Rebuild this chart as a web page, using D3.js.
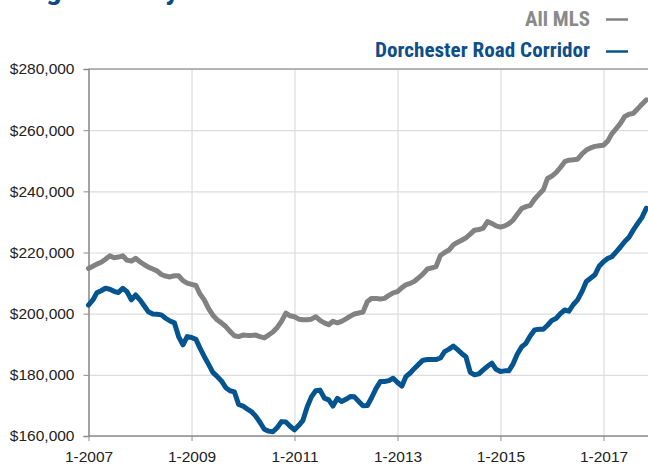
<!DOCTYPE html>
<html>
<head>
<meta charset="utf-8">
<script src="https://cdn.jsdelivr.net/npm/d3@7"></script>
<style>
  body { margin: 0; background: #fff; }
  .axis text { font-family: "Liberation Sans", Arial, Helvetica, sans-serif; font-size: 15.5px; fill: #222; }
  .axis path, .axis line { stroke: #8c8c8c; }
  .grid line { stroke: #dcdcdc; stroke-width: 1.2; }
  .grid path { display: none; }
  .cond { font-family: "Liberation Sans Narrow", "Arial Narrow", "Roboto Condensed", "DejaVu Sans Condensed", Arial, sans-serif; font-weight: bold; }
</style>
</head>
<body>
<div id="container"></div>
<script>
// monthly median price, Jan 2007 .. Nov 2017 (thousands)
const startMonth = new Date(2007, 0, 1);
const allMls = [
  214.8, 215.5, 216.2, 216.8, 217.8, 218.9, 218.3, 218.5, 218.9, 217.5, 217.2, 218.1,
  217.0, 216.0, 215.2, 214.6, 214.0, 212.8, 212.3, 212.0, 212.4, 212.4, 210.8, 210.0,
  209.6, 209.2, 206.5, 204.5, 201.7, 199.5, 198.0, 197.0, 195.8, 194.2, 192.8, 192.5,
  193.0, 192.9, 192.9, 193.0, 192.5, 192.1, 193.0, 194.0, 195.5, 197.5, 200.2, 199.3,
  199.0, 198.2, 198.0, 198.0, 198.2, 199.0, 197.8, 197.0, 196.4, 197.5, 197.0, 197.5,
  198.3, 199.2, 199.9, 200.2, 200.5, 204.0, 205.0, 205.0, 204.8, 205.0, 206.0, 206.8,
  207.2, 208.5, 209.4, 209.9, 210.6, 211.8, 213.0, 214.6, 215.0, 215.4, 219.0, 220.0,
  220.8, 222.5, 223.3, 224.0, 224.8, 226.0, 227.3, 227.5, 228.0, 230.1, 229.5, 228.7,
  228.3, 228.7, 229.4, 230.6, 232.5, 234.4, 235.0, 235.4, 237.5, 239.0, 240.5, 244.2,
  245.0, 246.2, 247.8, 249.7, 250.2, 250.3, 250.5, 252.2, 253.5, 254.2, 254.7, 254.9,
  255.1, 256.5, 258.8, 260.5, 262.2, 264.5, 265.2, 265.5, 267.0, 268.5, 269.9
];
const dorchester = [
  202.8, 204.5, 206.8, 207.5, 208.3, 208.0, 207.3, 206.9, 208.3, 207.2, 204.5, 206.1,
  204.5, 202.5, 200.6, 199.9, 199.8, 199.6, 198.5, 197.6, 197.0, 192.5, 189.8, 192.5,
  192.2, 191.6, 188.8, 186.0, 183.5, 180.8, 179.5, 178.0, 175.8, 174.8, 174.4, 170.3,
  169.8, 168.8, 168.0, 166.5, 164.5, 162.2, 161.6, 161.4, 162.8, 164.7, 164.6, 163.2,
  162.0, 163.5, 165.0, 169.5, 172.8, 174.8, 175.0, 172.4, 171.8, 169.8, 172.3, 171.3,
  172.0, 172.9, 172.8, 171.3, 169.9, 170.0, 172.5, 175.5, 177.8, 177.8, 178.1, 178.9,
  177.5, 176.3, 179.4, 180.6, 182.1, 183.5, 184.8, 185.0, 185.0, 185.0, 185.5, 187.6,
  188.4, 189.4, 188.3, 187.0, 185.9, 180.8, 180.0, 180.3, 181.6, 182.8, 183.8, 181.8,
  181.1, 181.3, 181.3, 183.6, 186.8, 189.2, 190.3, 192.8, 194.7, 194.9, 194.9, 196.2,
  197.8, 198.5, 200.0, 201.2, 200.8, 203.0, 204.5, 207.2, 210.5, 211.6, 212.7, 215.5,
  217.0, 218.1, 218.6, 220.2, 221.8, 223.6, 225.0, 227.4, 229.5, 231.5, 234.5
];
const yTicks = [160000, 180000, 200000, 220000, 240000, 260000, 280000];
const xTickLabels = ['1-2007', '1-2009', '1-2011', '1-2013', '1-2015', '1-2017'];
const seriesNames = ['All MLS', 'Dorchester Road Corridor'];
const title = 'Single-Family Detached';

const W = 648, H = 466;
const margin = { top: 69, left: 88.5, bottom: 30 };
const colors = ['#828282', '#04548f'];

const svg = d3.select('#container').append('svg')
  .attr('width', W).attr('height', H);

const months = allMls.map((d, i) => d3.timeMonth.offset(startMonth, i));
const xTickDates = xTickLabels.map(s => new Date(+s.split('-')[1], +s.split('-')[0] - 1, 1));

// 1-2007 -> 88.5, 1-2017 -> 603.5
const x = d3.scaleTime()
  .domain([xTickDates[0], xTickDates[xTickDates.length - 1]])
  .range([margin.left, 603.5]);
const y = d3.scaleLinear()
  .domain([yTicks[0], yTicks[yTicks.length - 1]])
  .range([436, margin.top]);

// grid
svg.append('g').attr('class', 'grid')
  .attr('transform', `translate(0, ${y.range()[0]})`)
  .call(d3.axisBottom(x).tickValues(xTickDates).tickSize(-(y.range()[0] - y.range()[1])).tickFormat(''));
svg.append('g').attr('class', 'grid')
  .attr('transform', `translate(${margin.left}, 0)`)
  .call(d3.axisLeft(y).tickValues(yTicks).tickSize(-(W - margin.left)).tickFormat(''));

// top border
svg.append('line')
  .attr('x1', margin.left).attr('x2', W)
  .attr('y1', y(yTicks[yTicks.length - 1])).attr('y2', y(yTicks[yTicks.length - 1]))
  .attr('stroke', '#a0a0a0').attr('stroke-width', 1.5);

// axes
const yAxis = svg.append('g').attr('class', 'axis')
  .attr('transform', `translate(${margin.left}, 0)`)
  .call(d3.axisLeft(y).tickValues(yTicks).tickSize(5).tickPadding(9).tickFormat(d3.format('$,')));
yAxis.select('.domain').attr('stroke-width', 1.5);

const xAxis = svg.append('g').attr('class', 'axis')
  .attr('transform', `translate(0, ${y.range()[0]})`)
  .call(d3.axisBottom(x).tickValues(xTickDates).tickSize(5).tickPadding(6)
    .tickFormat((d, i) => xTickLabels[i]));
xAxis.select('.domain').attr('d', `M${margin.left},0H${W}`).attr('stroke-width', 1.5);
xAxis.selectAll('text').attr('dy', '0.95em');

// lines
const line = d3.line()
  .x((d, i) => x(months[i]))
  .y(d => y(d * 1000));

[allMls, dorchester].forEach((s, k) => {
  svg.append('path')
    .datum(s)
    .attr('d', line)
    .attr('fill', 'none')
    .attr('stroke', colors[k])
    .attr('stroke-width', 5)
    .attr('stroke-linejoin', 'round')
    .attr('stroke-linecap', 'round');
});

// title (cropped at the top of the picture, as in the source)
svg.append('text').attr('class', 'cond')
  .attr('x', 5).attr('y', -1)
  .attr('font-size', 28)
  .attr('fill', '#0b4c85')
  .attr('textLength', 300).attr('lengthAdjust', 'spacingAndGlyphs')
  .text(title);

// legend
const legend = [
  { name: seriesNames[0], x: 525, w: 65, base: 26, dashY: 19.5 },
  { name: seriesNames[1], x: 375, w: 215, base: 56.5, dashY: 51.5 }
];
legend.forEach((l, k) => {
  svg.append('text').attr('class', 'cond')
    .attr('x', l.x).attr('y', l.base)
    .attr('font-size', 20)
    .attr('fill', k === 0 ? '#8a8a8a' : '#0d4f8b')
    .attr('textLength', l.w).attr('lengthAdjust', 'spacingAndGlyphs')
    .text(l.name);
  svg.append('line')
    .attr('x1', 606).attr('x2', 628)
    .attr('y1', l.dashY).attr('y2', l.dashY)
    .attr('stroke', colors[k]).attr('stroke-width', 2.5);
});
</script>
</body>
</html>
